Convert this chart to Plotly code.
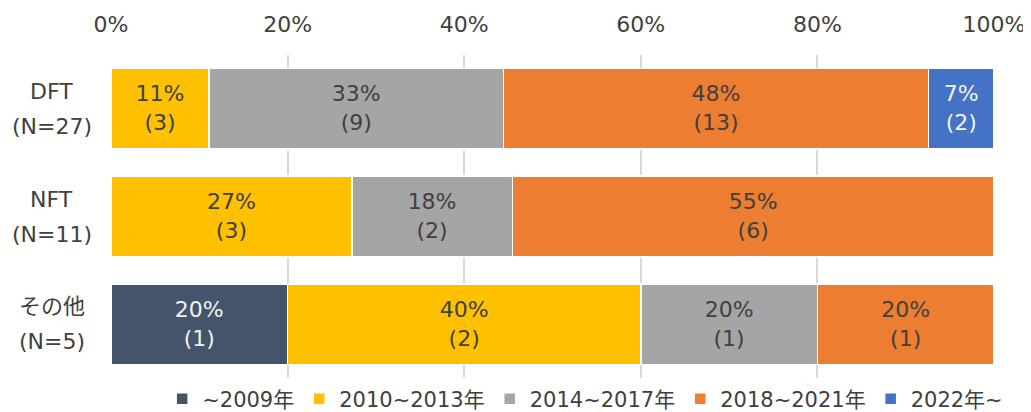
import plotly.graph_objects as go

categories = ["DFT", "NFT", "その他"]
n_labels = ["(N=27)", "(N=11)", "(N=5)"]
series_names = ["~2009年", "2010~2013年", "2014~2017年", "2018~2021年", "2022年~"]
counts = {
    "~2009年": [0, 0, 1],
    "2010~2013年": [3, 3, 2],
    "2014~2017年": [9, 2, 1],
    "2018~2021年": [13, 6, 1],
    "2022年~": [2, 0, 0],
}
totals = [27, 11, 5]
colors = ["#44546A", "#FFC000", "#A5A5A5", "#ED7D31", "#4472C4"]
text_colors = ["#F2F2F2", "#404040", "#404040", "#404040", "#F2F2F2"]
x_ticks = [0, 20, 40, 60, 80, 100]

FONT = "DejaVu Sans, Noto Sans CJK JP"
TXT = "#404040"
ypos = list(range(len(categories)))

fig = go.Figure()
cum = [0.0] * len(categories)
for name, col, tcol in zip(series_names, colors, text_colors):
    vals = counts[name]
    pct = [v / t * 100 for v, t in zip(vals, totals)]
    fig.add_trace(go.Bar(
        y=ypos, x=pct, name=name, orientation="h",
        marker=dict(color=col, line=dict(color="white", width=1.5)),
        hoverinfo="skip", width=0.75,
    ))
    mids = [c + p / 2 for c, p in zip(cum, pct)]
    keep = [i for i, v in enumerate(vals) if v > 0]
    fig.add_trace(go.Scatter(
        x=[mids[i] for i in keep], y=[ypos[i] - 0.12 for i in keep],
        text=[f"{round(pct[i])}%" for i in keep], mode="text",
        textfont=dict(color=tcol, size=22, family=FONT),
        showlegend=False, hoverinfo="skip", cliponaxis=False,
    ))
    fig.add_trace(go.Scatter(
        x=[mids[i] for i in keep], y=[ypos[i] + 0.15 for i in keep],
        text=[f"({vals[i]})" for i in keep], mode="text",
        textfont=dict(color=tcol, size=22, family=FONT),
        showlegend=False, hoverinfo="skip", cliponaxis=False,
    ))
    cum = [c + p for c, p in zip(cum, pct)]

for yp, cat, nl in zip(ypos, categories, n_labels):
    fig.add_annotation(x=-0.067, xref="paper", y=yp - 0.16, yref="y", text=cat,
                       showarrow=False, xanchor="center",
                       font=dict(size=22, family=FONT, color=TXT))
    fig.add_annotation(x=-0.067, xref="paper", y=yp + 0.165, yref="y", text=nl,
                       showarrow=False, xanchor="center",
                       font=dict(size=22, family=FONT, color=TXT))

fig.update_layout(
    barmode="stack", width=1023, height=404,
    margin=dict(l=103, r=37, t=47, b=34, autoexpand=False),
    paper_bgcolor="white", plot_bgcolor="white",
    font=dict(family=FONT, color=TXT, size=22),
    legend=dict(orientation="h", x=0.537, xanchor="center", y=-0.065, yanchor="middle",
                font=dict(size=21, family=FONT, color=TXT),
                itemwidth=30, traceorder="normal"),
    xaxis=dict(side="top", range=[0, 100], tickvals=x_ticks,
               ticktext=[f"{v}%" for v in x_ticks], showgrid=True,
               gridcolor="#D9D9D9", gridwidth=2, zeroline=False,
               tickfont=dict(size=22, family=FONT, color=TXT),
               ticks="outside", ticklen=13, tickcolor="rgba(0,0,0,0)",
               showline=False, fixedrange=True, automargin=False),
    yaxis=dict(range=[2.5, -0.5], showticklabels=False, showgrid=False,
               zeroline=False, showline=False, automargin=False),
    showlegend=True,
)

fig.write_html("out.html")
